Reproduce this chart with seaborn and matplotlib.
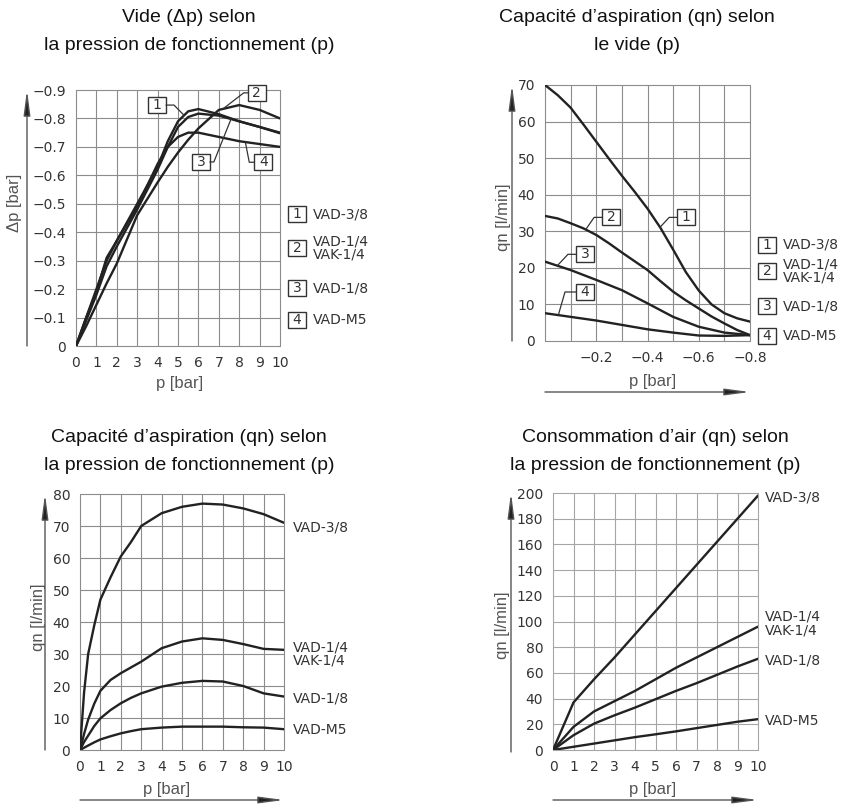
import numpy as np
import pandas as pd
import matplotlib
matplotlib.use("Agg")
import matplotlib.pyplot as plt
import seaborn as sns
from matplotlib import font_manager
from matplotlib.patches import Rectangle, FancyArrowPatch
from matplotlib.lines import Line2D
from matplotlib.transforms import IdentityTransform

# ---------------- data ----------------
series_names = ["VAD-3/8", "VAD-1/4", "VAD-1/8", "VAD-M5"]

# Vacuum (delta p, bar) vs operating pressure p (bar)
p_vac = [0, 0.5, 1, 1.5, 2, 3, 4, 4.5, 5, 5.5, 6, 7, 8, 9, 10]
dp_vad38 = [0, -0.10, -0.20, -0.30, -0.37, -0.50, -0.63, -0.72, -0.79, -0.825, -0.833, -0.815, -0.79, -0.77, -0.75]
dp_vad14 = [0, -0.07, -0.145, -0.22, -0.29, -0.46, -0.575, -0.63, -0.68, -0.725, -0.765, -0.83, -0.847, -0.83, -0.80]
dp_vad18 = [0, -0.09, -0.18, -0.28, -0.35, -0.48, -0.62, -0.70, -0.77, -0.805, -0.817, -0.81, -0.79, -0.77, -0.748]
dp_vadm5 = [0, -0.10, -0.19, -0.31, -0.37, -0.49, -0.64, -0.70, -0.735, -0.75, -0.75, -0.735, -0.72, -0.71, -0.70]

# Suction capacity qn (l/min) vs vacuum p (bar)
vac_fine = [0, -0.05, -0.1, -0.15, -0.2, -0.25, -0.3, -0.35, -0.4, -0.45, -0.5,
            -0.55, -0.6, -0.65, -0.7, -0.75, -0.8]
qn_vac_38 = [70, 67.2, 63.8, 59.2, 54.5, 49.8, 45.2, 40.8, 36.2, 31, 25, 18.8, 13.8, 10, 7.6, 6.2, 5.3]
qn_vac_14 = [34.2, 33.5, 32.2, 30.8, 29, 26.7, 24.2, 21.8, 19.4, 16.4, 13.5, 11.1, 8.9, 6.7, 4.8, 3.0, 1.6]
vac_pts = [0, -0.1, -0.2, -0.3, -0.4, -0.5, -0.6, -0.7, -0.8]
qn_vac_18 = [21.7, 19.4, 16.7, 13.9, 10.3, 6.6, 3.9, 2.3, 1.6]
qn_vac_m5 = [7.6, 6.6, 5.6, 4.4, 3.2, 2.3, 1.5, 1.4, 1.6]

# Suction capacity qn (l/min) vs operating pressure p (bar)
p_suc = [0, 0.2, 0.4, 0.7, 1, 1.5, 2, 2.5, 3, 4, 5, 6, 7, 8, 9, 10]
qn_suc_38 = [0, 18, 30, 39, 47, 54, 60.5, 65, 70, 74, 76, 77, 76.7, 75.5, 73.7, 71]
qn_suc_14 = [0, 5, 9.5, 14.5, 18.5, 21.9, 24, 25.8, 27.6, 31.8, 33.9, 34.9, 34.4, 33.1, 31.6, 31.3]
qn_suc_18 = [0, 2.5, 4.5, 7.5, 9.9, 12.5, 14.6, 16.3, 17.7, 19.8, 21, 21.6, 21.4, 20, 17.7, 16.7]
qn_suc_m5 = [0, 0.7, 1.4, 2.4, 3.3, 4.3, 5.2, 5.9, 6.5, 7.0, 7.3, 7.3, 7.3, 7.1, 7.0, 6.5]

# Air consumption qn (l/min) vs operating pressure p (bar)
p_air = [0, 1, 2, 3, 4, 5, 6, 7, 8, 9, 10]
air_38 = [0, 37, 55, 72, 90, 108, 126, 144, 162, 180, 198]
air_14 = [0, 18, 30, 38, 46, 55, 64, 72, 80, 88, 96]
air_18 = [0, 11.5, 20.5, 27, 33, 39.5, 46, 52, 58.5, 65, 71]
air_m5 = [0, 2.5, 5, 7.5, 10, 12.2, 14.5, 17, 19.5, 22, 24]

end_labels = ["VAD-3/8", "VAD-1/4\nVAK-1/4", "VAD-1/8", "VAD-M5"]

# ---------------- style ----------------
sns.set_style("white")
names = {f.name for f in font_manager.fontManager.ttflist}
NARROW = "Liberation Sans Narrow" if "Liberation Sans Narrow" in names else "Liberation Sans"
plt.rcParams["font.family"] = ["DejaVu Sans"]

W, H = 844, 805
fig = plt.figure(figsize=(W / 100, H / 100), dpi=100)
fig.patch.set_facecolor("white")

INK = "#222222"
GRID = "#8c8c8c"
TXT = "#333333"
LBL = "#555555"


def add_ax(x0, x1, ytop, ybot):
    return fig.add_axes([x0 / W, 1 - ybot / H, (x1 - x0) / W, (ybot - ytop) / H])


def style_grid(ax, xticks, yticks, xlabels, ylabels, grid=GRID):
    ax.set_xticks(xticks)
    ax.set_yticks(yticks)
    ax.set_xticklabels(xlabels)
    ax.set_yticklabels(ylabels)
    for s in ax.spines.values():
        s.set_visible(False)
    ax.grid(True, color=grid, lw=0.8)
    ax.tick_params(axis="both", length=5.5, width=0.8, color=grid, labelsize=10,
                   labelcolor=TXT, pad=1.5, direction="out")
    for ln in ax.get_xgridlines() + ax.get_ygridlines():
        ln.set_clip_on(False)
    ax.set_xlabel("")
    ax.set_ylabel("")
    ax.set_facecolor("white")


def draw_series(ax, x, ys):
    frames = []
    for name, y in zip(series_names, ys):
        frames.append(pd.DataFrame({"x": x[name] if isinstance(x, dict) else x,
                                    "y": y, "series": name}))
    df = pd.concat(frames, ignore_index=True)
    sns.lineplot(data=df, x="x", y="y", hue="series", units="series",
                 palette={n: INK for n in series_names}, estimator=None,
                 sort=False, legend=False, lw=1.7, ax=ax)


def fig_pt(x, y):
    """top-left pixel coords -> display coords"""
    return (x, H - y)


def arrow(x0, y0, x1, y1):
    a = FancyArrowPatch(fig_pt(x0, y0), fig_pt(x1, y1), transform=IdentityTransform(),
                        arrowstyle="-|>,head_length=1.5,head_width=0.2",
                        mutation_scale=10, color="#555555", lw=1.0,
                        shrinkA=0, shrinkB=0)
    a.set_facecolor("#222222")
    fig.add_artist(a)


def num_box_disp(cx, cy, label):
    r = Rectangle((cx - 9, cy - 8), 18, 16, transform=IdentityTransform(),
                  fc="white", ec="#333333", lw=1.0)
    fig.add_artist(r)
    fig.text(cx / W, cy / H, label, ha="center", va="center", fontsize=10,
             color=TXT)


def legend_rows(xbox, xtext, rows):
    for num, (y, text) in enumerate(rows, start=1):
        cx, cy = fig_pt(xbox, y)
        num_box_disp(cx, cy, str(num))
        fig.text(xtext / W, 1 - y / H, text, ha="left", va="center", fontsize=10,
                 color=TXT, linespacing=0.95)


def callout(ax, box_xy, label, curve_x, curve_y, at_x, side, elbow=8):
    """numbered box with a leader line that ends on a curve"""
    cx, cy = ax.transData.transform(box_xy)
    num_box_disp(cx, cy, label)
    order = np.argsort(curve_x)
    ty = np.interp(at_x, np.asarray(curve_x)[order], np.asarray(curve_y)[order])
    tx, tyd = ax.transData.transform((at_x, ty))
    ex = cx + 9 * side
    fig.add_artist(Line2D([ex, ex + elbow * side, tx], [cy, cy, tyd],
                          transform=IdentityTransform(), color="#333333", lw=0.9))


def titles(xc, y1, y2, l1, l2, size=14):
    fig.text(xc / W, 1 - y1 / H, l1, ha="center", va="center", fontsize=size,
             family=NARROW, color="#111111")
    fig.text(xc / W, 1 - y2 / H, l2, ha="center", va="center", fontsize=size,
             family=NARROW, color="#111111")


def axis_text(x, y, s, rot=0):
    fig.text(x / W, 1 - y / H, s, ha="center", va="center", rotation=rot,
             fontsize=12, family=NARROW, color=LBL)


# ---------------- chart 1: vacuum vs operating pressure ----------------
ax1 = add_ax(76, 280, 90, 346)
draw_series(ax1, p_vac, [dp_vad38, dp_vad14, dp_vad18, dp_vadm5])
ax1.set_xlim(0, 10)
ax1.set_ylim(0, -0.9)
yt1 = [0, -0.1, -0.2, -0.3, -0.4, -0.5, -0.6, -0.7, -0.8, -0.9]
style_grid(ax1, range(11), yt1, [str(i) for i in range(11)],
           ["0"] + ["\u2212%.1f" % abs(v) for v in yt1[1:]])
titles(189, 18, 45, "Vide (\u0394p) selon", "la pression de fonctionnement (p)")
axis_text(15, 203, "\u0394p [bar]", 90)
axis_text(180, 383, "p [bar]")
arrow(27, 346, 27, 90)
callout(ax1, (3.97, -0.847), "1", p_vac, dp_vad38, 5.3, +1)
callout(ax1, (8.86, -0.89), "2", p_vac, dp_vad14, 7.2, -1, elbow=4)
callout(ax1, (6.12, -0.647), "3", p_vac, dp_vad18, 7.6, +1, elbow=4)
callout(ax1, (9.18, -0.646), "4", p_vac, dp_vadm5, 8.3, -1, elbow=5)
legend_rows(297, 313, [(214, "VAD-3/8"), (248, "VAD-1/4\nVAK-1/4"),
                       (288, "VAD-1/8"), (320, "VAD-M5")])

# ---------------- chart 2: suction capacity vs vacuum ----------------
ax2 = add_ax(545, 750, 85, 341)
draw_series(ax2, {"VAD-3/8": vac_fine, "VAD-1/4": vac_fine, "VAD-1/8": vac_pts,
                  "VAD-M5": vac_pts},
            [qn_vac_38, qn_vac_14, qn_vac_18, qn_vac_m5])
ax2.set_xlim(0, -0.8)
ax2.set_ylim(0, 70)
xt2 = [0, -0.1, -0.2, -0.3, -0.4, -0.5, -0.6, -0.7, -0.8]
style_grid(ax2, xt2, range(0, 71, 10),
           ["\u2212%.1f" % abs(v) if i % 2 == 0 and i > 0 else "" for i, v in enumerate(xt2)],
           [str(v) for v in range(0, 71, 10)])
titles(637, 18, 45, "Capacit\u00e9 d\u2019aspiration (qn) selon", "le vide (p)")
axis_text(504, 217, "qn [l/min]", 90)
axis_text(653, 381, "p [bar]")
arrow(512, 341, 512, 85)
arrow(545, 392, 750, 392)
callout(ax2, (-0.551, 33.8), "1", vac_fine, qn_vac_38, -0.449, -1)
callout(ax2, (-0.258, 33.8), "2", vac_fine, qn_vac_14, -0.159, -1)
callout(ax2, (-0.156, 23.7), "3", vac_pts, qn_vac_18, -0.048, -1)
callout(ax2, (-0.156, 13.4), "4", vac_pts, qn_vac_m5, -0.052, -1, elbow=11)
legend_rows(767, 783, [(245, "VAD-3/8"), (271, "VAD-1/4\nVAK-1/4"),
                       (306, "VAD-1/8"), (336, "VAD-M5")])

# ---------------- chart 3: suction capacity vs operating pressure ----------------
ax3 = add_ax(80, 284, 494, 750)
suc = [qn_suc_38, qn_suc_14, qn_suc_18, qn_suc_m5]
draw_series(ax3, p_suc, suc)
ax3.set_xlim(0, 10)
ax3.set_ylim(0, 80)
style_grid(ax3, range(11), range(0, 81, 10), [str(i) for i in range(11)],
           [str(v) for v in range(0, 81, 10)])
titles(189, 437, 465, "Capacit\u00e9 d\u2019aspiration (qn) selon",
       "la pression de fonctionnement (p)")
axis_text(38, 617, "qn [l/min]", 90)
axis_text(167, 789, "p [bar]")
arrow(45, 750, 45, 494)
arrow(80, 800, 284, 800)
for lab, ys, dy in zip(end_labels, suc, [-5, -4, -2, -1]):
    ax3.annotate(lab, (p_suc[-1], ys[-1]), xytext=(9, dy), textcoords="offset pixels",
                 ha="left", va="center", fontsize=10, color=TXT, linespacing=0.95,
                 annotation_clip=False)

# ---------------- chart 4: air consumption vs operating pressure ----------------
ax4 = add_ax(553, 758, 493, 750)
air = [air_38, air_14, air_18, air_m5]
draw_series(ax4, p_air, air)
ax4.set_xlim(0, 10)
ax4.set_ylim(0, 200)
style_grid(ax4, range(11), range(0, 201, 20), [str(i) for i in range(11)],
           [str(v) for v in range(0, 201, 20)], grid="#a6a6a6")
titles(655, 437, 465, "Consommation d\u2019air (qn) selon",
       "la pression de fonctionnement (p)")
axis_text(503, 625, "qn [l/min]", 90)
axis_text(653, 789, "p [bar]")
arrow(511, 752, 511, 493)
arrow(553, 800, 758, 800)
for lab, ys, dy in zip(end_labels, air, [-2, 3, -2, -2]):
    ax4.annotate(lab, (p_air[-1], ys[-1]), xytext=(7, dy), textcoords="offset pixels",
                 ha="left", va="center", fontsize=10, color=TXT, linespacing=0.95,
                 annotation_clip=False)

fig.savefig("out.png", dpi=100, facecolor="white")
